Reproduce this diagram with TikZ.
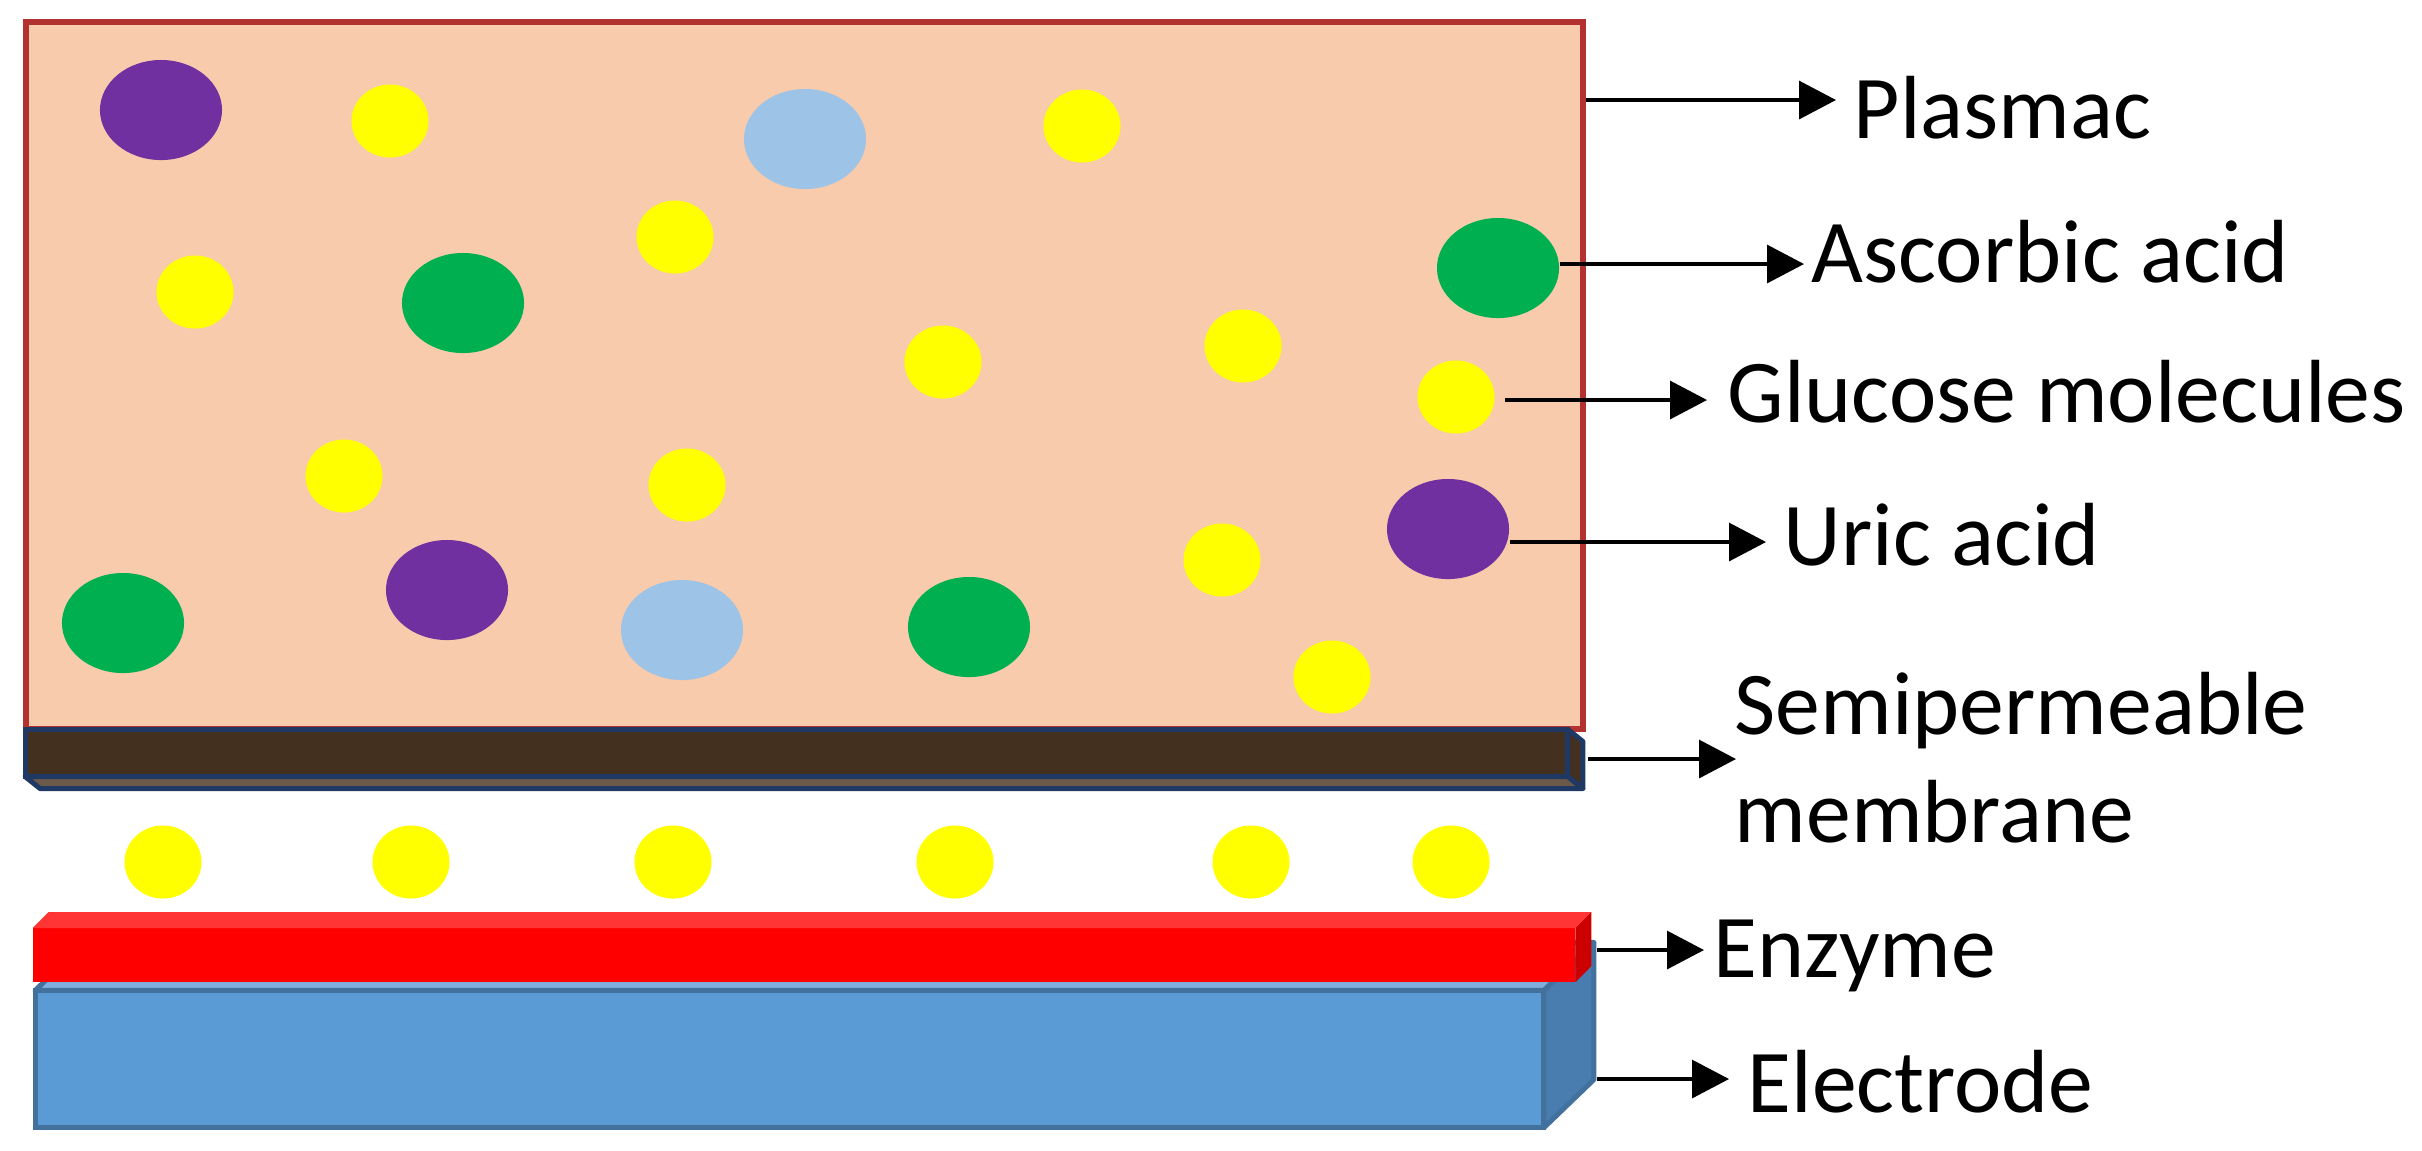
\documentclass[tikz,border=0pt]{standalone}
\usepackage{fontspec}
\setmainfont{Carlito}
\usetikzlibrary{positioning,shapes.geometric,arrows.meta}

\definecolor{plasmafill}{HTML}{F7CBAC}
\definecolor{plasmaline}{HTML}{B3312F}
\definecolor{uricpurple}{HTML}{7030A0}
\definecolor{ascgreen}{HTML}{00B050}
\definecolor{paleblue}{HTML}{9DC3E6}
\definecolor{glcyellow}{HTML}{FFFF00}
\definecolor{membbrown}{HTML}{44301E}
\definecolor{membunder}{HTML}{6B5A4A}
\definecolor{membline}{HTML}{1F3864}
\definecolor{enzred}{HTML}{FF0000}
\definecolor{enztop}{HTML}{FF3535}
\definecolor{enzside}{HTML}{CC0000}
\definecolor{elecblue}{HTML}{5B9BD5}
\definecolor{elecline}{HTML}{41719C}
\definecolor{elecside}{HTML}{4A7DAF}
\definecolor{electop}{HTML}{7FAEDD}

\begin{document}
\begin{tikzpicture}[x=0.01cm, y=-0.01cm, every node/.style={inner sep=0pt},
  molecule/.style={ellipse, minimum width=1.22cm, minimum height=1cm},
  glucose/.style={ellipse, fill=glcyellow, minimum width=0.77cm, minimum height=0.73cm},
  pointer/.style={-{Triangle[length=0.37cm, width=0.38cm]}, line width=0.033cm},
  lbl/.style={anchor=base west, font=\fontsize{25.5}{30.7}\selectfont}]

\useasboundingbox (0,0) rectangle (2422,1150);

% Plasma compartment
\node (plasma) [rectangle, draw=plasmaline, fill=plasmafill, line width=0.06cm, minimum width=15.57cm, minimum height=7.07cm] at (804.5,375.5) {};

% Large molecules
\node (ua1) [molecule, fill=uricpurple] at (161,110) {};
\node (ua2) [molecule, fill=uricpurple] at (447,590) {};
\node (ua3) [molecule, fill=uricpurple] at (1448,529) {};
\node (pb1) [molecule, fill=paleblue] at (805,139) {};
\node (pb2) [molecule, fill=paleblue] at (682,630) {};
\node (aa1) [molecule, fill=ascgreen] at (463,303) {};
\node (aa2) [molecule, fill=ascgreen] at (1498,268) {};
\node (aa3) [molecule, fill=ascgreen] at (123,623) {};
\node (aa4) [molecule, fill=ascgreen] at (969,627) {};

% Glucose in plasma
\node (g1) [glucose] at (390,121) {};
\node (g2) [glucose] at (1082,126) {};
\node (g3) [glucose] at (675,237) {};
\node (g4) [glucose] at (195,292) {};
\node (g5) [glucose] at (943,362) {};
\node (g6) [glucose] at (1243,346) {};
\node (g7) [glucose] at (1456,397) {};
\node (g8) [glucose] at (344,476) {};
\node (g9) [glucose] at (687,485) {};
\node (g10) [glucose] at (1222,560) {};
\node (g11) [glucose] at (1332,677) {};

% Semipermeable membrane
\node (memb) [rectangle, draw=membline, fill=membbrown, line width=0.05cm, outer sep=0pt, minimum width=15.42cm, minimum height=0.47cm] at (796.5,753) {};
\filldraw[draw=membline, fill=membunder, line width=0.05cm, line join=round] (memb.south west) -- ++(15,12) -- ([shift={(15,12)}]memb.south east) -- (memb.south east) -- cycle;
\filldraw[draw=membline, fill=membbrown, line width=0.05cm, line join=round] (memb.north east) -- ++(15,12) -- ++(0,47) -- (memb.south east) -- cycle;

% Glucose passing through
\node (gm1) [glucose] at (163,862) {};
\node (gm2) [glucose] at (411,862) {};
\node (gm3) [glucose] at (673,862) {};
\node (gm4) [glucose] at (955,862) {};
\node (gm5) [glucose] at (1251,862) {};
\node (gm6) [glucose] at (1451,862) {};

% Electrode
\node (elec) [rectangle, draw=elecline, fill=elecblue, line width=0.05cm, outer sep=0pt, minimum width=15.08cm, minimum height=1.37cm] at (789.5,1059) {};
\filldraw[draw=elecline, fill=electop, line width=0.05cm, line join=round] (elec.north west) -- ++(50,-48) -- ([shift={(50,-48)}]elec.north east) -- (elec.north east) -- cycle;
\filldraw[draw=elecline, fill=elecside, line width=0.05cm, line join=round] (elec.north east) -- ++(50,-48) -- ++(0,137) -- (elec.south east) -- cycle;

% Enzyme layer
\node (enz) [rectangle, fill=enzred, outer sep=0pt, minimum width=15.42cm, minimum height=0.54cm] at (804,955) {};
\fill[enztop] (enz.north west) -- ++(16,-16) -- ([shift={(16,-16)}]enz.north east) -- (enz.north east) -- cycle;
\fill[enzside] (enz.north east) -- ++(16,-16) -- ++(0,54) -- (enz.south east) -- cycle;

% Labels
\node (lblPl) [lbl] at (1853,138) {Plasmac};
\node (lblAa) [lbl] at (1811,282) {Ascorbic acid};
\node (lblGl) [lbl] at (1727,422) {Glucose molecules};
\node (lblUa) [lbl] at (1783,565) {Uric acid};
\node (lblMb) [lbl, anchor=south west, align=left, text depth=0pt] at (1734,843) {Semipermeable\\membrane};
\node (lblEz) [lbl] at (1713,977) {Enzyme};
\node (lblEl) [lbl] at (1747,1112) {Electrode};

% Arrows
\coordinate (tipPl) at (1836,100);
\coordinate (tipAa) at (1804,264);
\coordinate (tipGl) at (1707,400);
\coordinate (tipUa) at (1766,542);
\coordinate (tipMb) at (1736,759);
\coordinate (tipEz) at (1704,950);
\coordinate (tipEl) at (1729,1079);
\draw[pointer] (plasma.east |- tipPl) -- (tipPl);
\draw[pointer] (aa2.east |- tipAa) -- (tipAa);
\draw[pointer, shorten <=0.1cm] (g7.east |- tipGl) -- (tipGl);
\draw[pointer] (ua3.east |- tipUa) -- (tipUa);
\draw[pointer] (memb.east |- tipMb) ++(20,0) -- (tipMb);
\draw[pointer] (enz.east |- tipEz) ++(22,0) -- (tipEz);
\draw[pointer] (elec.east |- tipEl) ++(53,0) -- (tipEl);

\end{tikzpicture}
\end{document}
